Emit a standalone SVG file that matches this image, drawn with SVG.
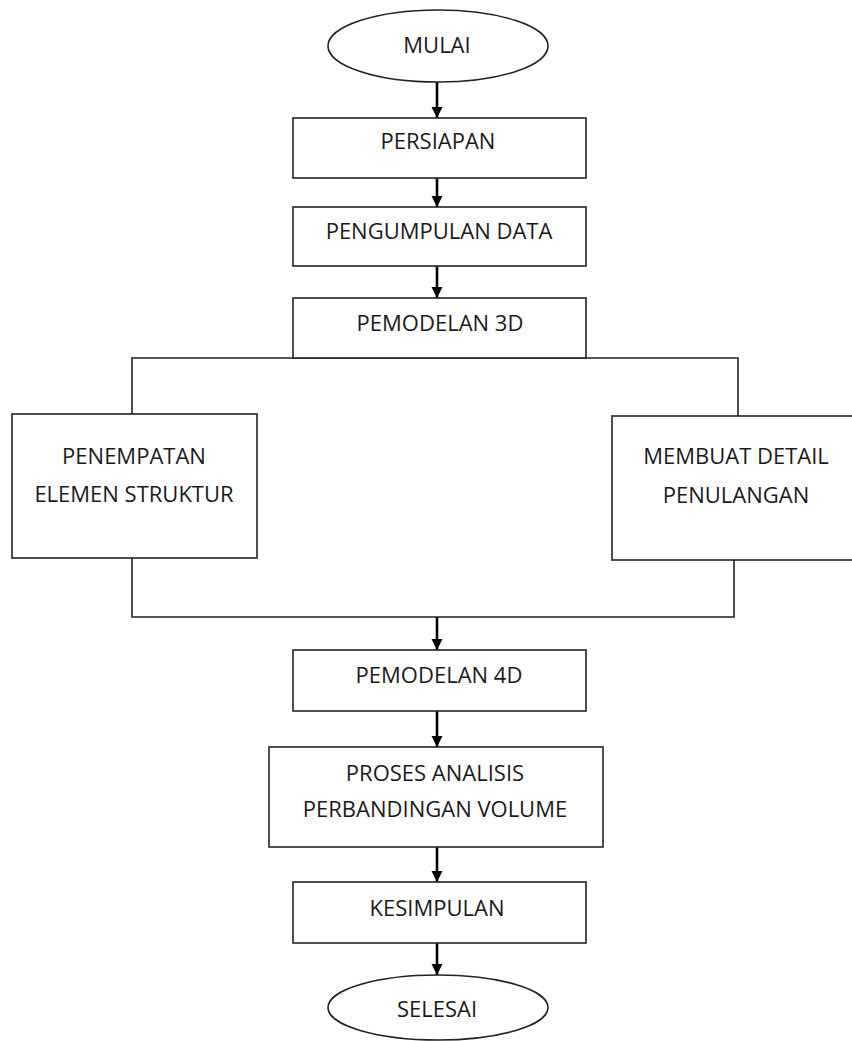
<svg xmlns="http://www.w3.org/2000/svg" width="852" height="1041" viewBox="0 0 852 1041">
  <defs>
    <marker id="arr" markerUnits="userSpaceOnUse" markerWidth="12" markerHeight="12" refX="11" refY="5.5" orient="auto">
      <path d="M0,0 L11,5.5 L0,11 Z" fill="#000"/>
    </marker>
    <style>
      .box { fill: #fff; stroke: #222; stroke-width: 1.6; }
      .lbl { font-family: "Open Sans", "Noto Sans", sans-serif; font-size: 22px; fill: #1a1a1a; text-anchor: middle; }
      .ln { fill: none; stroke: #222; stroke-width: 1.6; }
      .ar { fill: none; stroke: #000; stroke-width: 2.6; marker-end: url(#arr); }
    </style>
  </defs>
  <rect width="852" height="1041" fill="#fff"/>

  <g id="connectors">
    <line class="ar" x1="437" y1="82" x2="437" y2="118"/>
    <line class="ar" x1="437" y1="178" x2="437" y2="207"/>
    <line class="ar" x1="437" y1="266" x2="437" y2="298"/>
    <polyline class="ln" points="132,414 132,358 738,358 738,416"/>
    <polyline class="ln" points="132,558 132,617 734,617 734,560"/>
    <line class="ar" x1="437" y1="617" x2="437" y2="650"/>
    <line class="ar" x1="437" y1="711" x2="437" y2="747"/>
    <line class="ar" x1="437" y1="847" x2="437" y2="882"/>
    <line class="ar" x1="437" y1="943" x2="437" y2="975"/>
  </g>

  <g id="mulai">
    <ellipse class="box" cx="438" cy="46" rx="110" ry="36"/>
    <text class="lbl" x="437" y="53">MULAI</text>
  </g>
  <g id="persiapan">
    <rect class="box" x="293" y="118" width="293" height="60"/>
    <text class="lbl" x="438" y="149">PERSIAPAN</text>
  </g>
  <g id="pengumpulan">
    <rect class="box" x="293" y="207" width="293" height="59"/>
    <text class="lbl" x="439" y="239">PENGUMPULAN DATA</text>
  </g>
  <g id="pemodelan3d">
    <rect class="box" x="293" y="298" width="293" height="60"/>
    <text class="lbl" x="440" y="331">PEMODELAN 3D</text>
  </g>
  <g id="penempatan">
    <rect class="box" x="12" y="414" width="245" height="144"/>
    <text class="lbl" x="134" y="464">PENEMPATAN</text>
    <text class="lbl" x="134" y="502">ELEMEN STRUKTUR</text>
  </g>
  <g id="detail">
    <rect class="box" x="612" y="416" width="250" height="144"/>
    <text class="lbl" x="736" y="464">MEMBUAT DETAIL</text>
    <text class="lbl" x="736" y="503">PENULANGAN</text>
  </g>
  <g id="pemodelan4d">
    <rect class="box" x="293" y="650" width="293" height="61"/>
    <text class="lbl" x="439" y="683">PEMODELAN 4D</text>
  </g>
  <g id="proses">
    <rect class="box" x="269" y="747" width="334" height="100"/>
    <text class="lbl" x="435" y="781">PROSES ANALISIS</text>
    <text class="lbl" x="435" y="817">PERBANDINGAN VOLUME</text>
  </g>
  <g id="kesimpulan">
    <rect class="box" x="293" y="882" width="293" height="61"/>
    <text class="lbl" x="437" y="916">KESIMPULAN</text>
  </g>
  <g id="selesai">
    <ellipse class="box" cx="438" cy="1007.5" rx="110" ry="32.5"/>
    <text class="lbl" x="437" y="1017">SELESAI</text>
  </g>
</svg>
